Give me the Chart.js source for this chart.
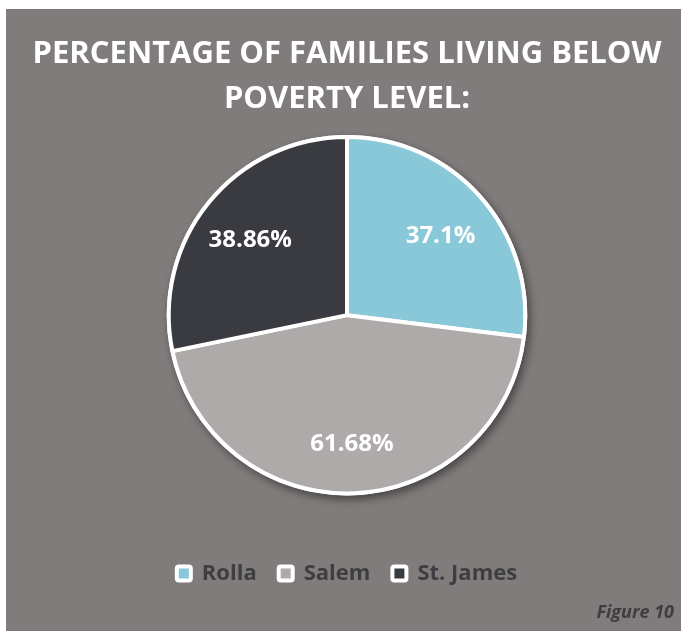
<!DOCTYPE html>
<html>
<head>
<meta charset="utf-8">
<script src="https://cdn.jsdelivr.net/npm/chart.js@4.4.1/dist/chart.umd.min.js"></script>
<style>
  html, body { margin: 0; padding: 0; background: #ffffff; }
  #panel {
    position: absolute; left: 6px; top: 9px;
    width: 675px; height: 622px;
    background: #807c7b;
  }
</style>
</head>
<body>
<div id="panel"><canvas id="myChart"></canvas></div>
<script>
var titleLines = ['PERCENTAGE OF FAMILIES LIVING BELOW', 'POVERTY LEVEL:'];
var towns = ['Rolla', 'Salem', 'St. James'];
var percentBelow = [37.1, 61.68, 38.86];
var sliceColors = ['#89c8d9', '#aeaaa9', '#3a3b40'];
var figureLabel = 'Figure 10';

var fontName = '"Open Sans", "DejaVu Sans", sans-serif';

// soft shadow under the whole pie
var pieShadow = {
  id: 'pieShadow',
  beforeDatasetsDraw: function(chart) {
    var arc = chart.getDatasetMeta(0).data[0];
    if (!arc) return;
    var c = chart.ctx;
    c.save();
    c.shadowColor = 'rgba(0,0,0,0.45)';
    c.shadowBlur = 9;
    c.shadowOffsetX = 3;
    c.shadowOffsetY = 4;
    c.fillStyle = '#ffffff';
    c.beginPath();
    c.arc(arc.x, arc.y, arc.outerRadius + 2, 0, Math.PI * 2);
    c.fill();
    c.restore();
  }
};

// value labels inside each slice
var sliceLabels = {
  id: 'sliceLabels',
  afterDatasetsDraw: function(chart) {
    var c = chart.ctx;
    var ds = chart.data.datasets[0];
    c.save();
    c.fillStyle = '#ffffff';
    c.font = 'bold 24px ' + fontName;
    c.textAlign = 'center';
    c.textBaseline = 'middle';
    chart.getDatasetMeta(0).data.forEach(function(arc, i) {
      var mid = (arc.startAngle + arc.endAngle) / 2;
      var r = arc.outerRadius * 0.7;
      c.fillText(ds.data[i] + '%', arc.x + Math.cos(mid) * r, arc.y + Math.sin(mid) * r + 4);
    });
    c.restore();
  }
};

var ctx = document.getElementById('myChart').getContext('2d');
var myChart = new Chart(ctx, {
  type: 'pie',
  data: {
    labels: towns,
    datasets: [{
      data: percentBelow,
      backgroundColor: sliceColors,
      borderColor: '#ffffff',
      borderWidth: 4
    }]
  },
  options: {
    responsive: true,
    maintainAspectRatio: false,
    animation: false,
    layout: { padding: { left: 14, right: 7, top: 0, bottom: 0 } },
    plugins: {
      tooltip: { enabled: false },
      title: {
        display: true,
        text: titleLines,
        color: '#ffffff',
        font: { family: fontName, size: 31, weight: 'bold', lineHeight: 1.45 },
        padding: { top: 23, bottom: 13 }
      },
      subtitle: {
        display: true,
        position: 'bottom',
        align: 'end',
        text: figureLabel,
        color: '#3e3d41',
        font: { family: fontName, size: 18, weight: 'bold', style: 'italic', lineHeight: 1.2 },
        padding: { top: 8, bottom: 7 }
      },
      legend: {
        position: 'bottom',
        title: {
          display: true,
          text: '',
          font: { size: 10, lineHeight: 1 },
          padding: { top: 35, bottom: 0 }
        },
        labels: {
          color: '#3e3d41',
          font: { family: fontName, size: 22, weight: 'bold' },
          boxWidth: 14,
          boxHeight: 14,
          padding: 22,
          generateLabels: function(chart) {
            var items = Chart.DoughnutController.overrides.plugins.legend.labels.generateLabels(chart);
            items.forEach(function(it) { it.borderRadius = 2; });
            return items;
          }
        }
      }
    }
  },
  plugins: [pieShadow, sliceLabels]
});
</script>
</body>
</html>
